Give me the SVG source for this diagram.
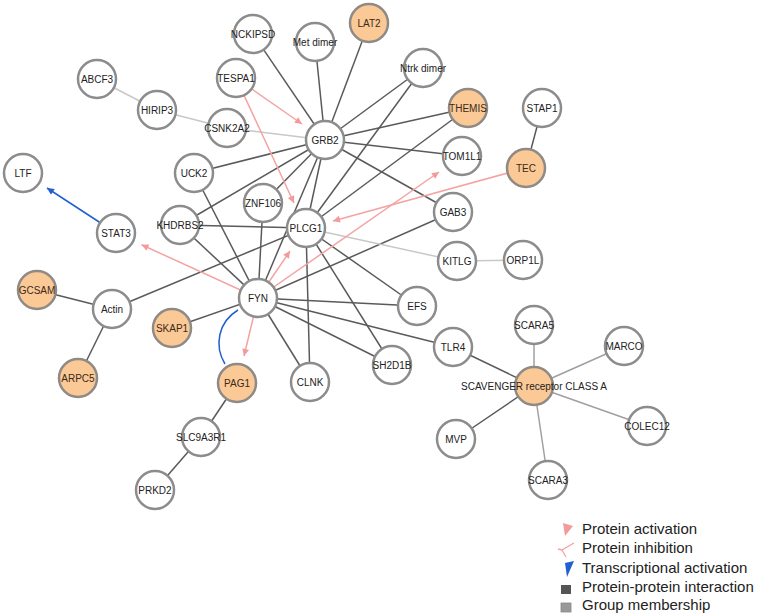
<svg xmlns="http://www.w3.org/2000/svg" width="757" height="615" viewBox="0 0 757 615">
<style>
.n circle{fill:#fff;stroke:#8c8c8c;stroke-width:2.5}
.o circle{fill:#fbc995;stroke:#8f8a85;stroke-width:2.5}
text{font-family:"Liberation Sans",Arial,sans-serif;font-size:10px;fill:#222;text-anchor:middle}
.o text{fill:#3a2a1a}
.d{stroke:#5a5a5a;stroke-width:1.5;fill:none}
.l{stroke:#c8c8c8;stroke-width:1.5;fill:none}
.g{stroke:#a0a0a0;stroke-width:1.5;fill:none}
.p{stroke:#f4a3a3;stroke-width:1.5;fill:none;marker-end:url(#pa)}
.b{stroke:#2060d0;stroke-width:1.5;fill:none}
.leg{font-size:15px;text-anchor:start;fill:#222}
</style>
<defs>
<marker id="pa" viewBox="0 0 10 10" refX="10" refY="5" markerWidth="10" markerHeight="7" markerUnits="userSpaceOnUse" orient="auto"><path d="M0,0 L10,5 L0,10 z" fill="#f39a9a"/></marker>
<marker id="ba" viewBox="0 0 10 10" refX="10" refY="5" markerWidth="10" markerHeight="7" markerUnits="userSpaceOnUse" orient="auto"><path d="M0,0 L10,5 L0,10 z" fill="#2060d0"/></marker>
</defs>
<g id="connectors">
<line class="d" x1="253" y1="34" x2="325" y2="140"/>
<line class="d" x1="315" y1="42" x2="325" y2="140"/>
<line class="d" x1="369" y1="23" x2="325" y2="140"/>
<line class="d" x1="423" y1="68" x2="325" y2="140"/>
<line class="d" x1="468" y1="108" x2="325" y2="140"/>
<line class="d" x1="462" y1="156" x2="325" y2="140"/>
<line class="d" x1="453" y1="212" x2="325" y2="140"/>
<line class="d" x1="194" y1="173" x2="325" y2="140"/>
<line class="d" x1="180" y1="225" x2="325" y2="140"/>
<line class="d" x1="263" y1="203" x2="325" y2="140"/>
<line class="d" x1="306" y1="228" x2="325" y2="140"/>
<line class="d" x1="258" y1="298" x2="325" y2="140"/>
<line class="d" x1="423" y1="68" x2="306" y2="228"/>
<line class="d" x1="468" y1="108" x2="306" y2="228"/>
<line class="d" x1="180" y1="225" x2="306" y2="228"/>
<line class="d" x1="112" y1="309" x2="306" y2="228"/>
<line class="d" x1="306" y1="228" x2="417" y2="306"/>
<line class="d" x1="306" y1="228" x2="392" y2="365"/>
<line class="d" x1="306" y1="228" x2="310" y2="382"/>
<line class="d" x1="258" y1="298" x2="194" y2="173"/>
<line class="d" x1="258" y1="298" x2="180" y2="225"/>
<line class="d" x1="258" y1="298" x2="263" y2="203"/>
<line class="d" x1="258" y1="298" x2="453" y2="212"/>
<line class="d" x1="258" y1="298" x2="417" y2="306"/>
<line class="d" x1="258" y1="298" x2="453" y2="347"/>
<line class="d" x1="258" y1="298" x2="392" y2="365"/>
<line class="d" x1="258" y1="298" x2="310" y2="382"/>
<line class="d" x1="258" y1="298" x2="172" y2="328"/>
<line class="d" x1="112" y1="309" x2="37" y2="290"/>
<line class="d" x1="112" y1="309" x2="78" y2="378"/>
<line class="d" x1="237" y1="383" x2="201" y2="437"/>
<line class="d" x1="201" y1="437" x2="155" y2="490"/>
<line class="d" x1="526" y1="168" x2="542" y2="108"/>
<line class="d" x1="453" y1="347" x2="534" y2="386"/>
<line class="d" x1="456" y1="439" x2="534" y2="386"/>
<line class="l" x1="97" y1="79" x2="157" y2="110"/>
<line class="l" x1="157" y1="110" x2="227" y2="128"/>
<line class="l" x1="227" y1="128" x2="325" y2="140"/>
<line class="l" x1="306" y1="228" x2="457" y2="261"/>
<line class="l" x1="457" y1="261" x2="523" y2="260"/>
<line class="g" x1="534" y1="386" x2="534" y2="325"/>
<line class="g" x1="534" y1="386" x2="624" y2="346"/>
<line class="g" x1="534" y1="386" x2="647" y2="426"/>
<line class="g" x1="534" y1="386" x2="548" y2="480"/>
<line class="p" x1="236" y1="78" x2="302" y2="124"/>
<line class="p" x1="236" y1="78" x2="294" y2="203"/>
<line class="p" x1="258" y1="298" x2="290" y2="251"/>
<line class="p" x1="258" y1="298" x2="439" y2="172"/>
<line class="p" x1="526" y1="168" x2="333" y2="221"/>
<line class="p" x1="258" y1="298" x2="141.5" y2="244.7"/>
<line class="p" x1="258" y1="298" x2="244" y2="356"/>
<line class="b" x1="116" y1="233" x2="47" y2="188" marker-end="url(#ba)"/>
<path class="b" d="M238,310 C218,322 214,346 225,364"/>
</g>
<g id="LTF" class="n"><circle cx="23" cy="173" r="19"/><text x="23" y="176.5">LTF</text></g>
<g id="ABCF3" class="n"><circle cx="97" cy="79" r="19"/><text x="97" y="82.5">ABCF3</text></g>
<g id="HIRIP3" class="n"><circle cx="157" cy="110" r="19"/><text x="157" y="113.5">HIRIP3</text></g>
<g id="CSNK2A2" class="n"><circle cx="227" cy="128" r="19"/><text x="227" y="131.5">CSNK2A2</text></g>
<g id="TESPA1" class="n"><circle cx="236" cy="78" r="19"/><text x="236" y="81.5">TESPA1</text></g>
<g id="NCKIPSD" class="n"><circle cx="253" cy="34" r="19"/><text x="253" y="37.5">NCKIPSD</text></g>
<g id="MetDimer" class="n"><circle cx="315" cy="42" r="19"/><text x="315" y="45.5">Met dimer</text></g>
<g id="LAT2" class="o"><circle cx="369" cy="23" r="19"/><text x="369" y="26.5">LAT2</text></g>
<g id="NtrkDimer" class="n"><circle cx="423" cy="68" r="19"/><text x="423" y="71.5">Ntrk dimer</text></g>
<g id="THEMIS" class="o"><circle cx="468" cy="108" r="19"/><text x="468" y="111.5">THEMIS</text></g>
<g id="STAP1" class="n"><circle cx="542" cy="108" r="19"/><text x="542" y="111.5">STAP1</text></g>
<g id="GRB2" class="n"><circle cx="325" cy="140" r="19"/><text x="325" y="143.5">GRB2</text></g>
<g id="TOM1L1" class="n"><circle cx="462" cy="156" r="19"/><text x="462" y="159.5">TOM1L1</text></g>
<g id="TEC" class="o"><circle cx="526" cy="168" r="19"/><text x="526" y="171.5">TEC</text></g>
<g id="UCK2" class="n"><circle cx="194" cy="173" r="19"/><text x="194" y="176.5">UCK2</text></g>
<g id="ZNF106" class="n"><circle cx="263" cy="203" r="19"/><text x="263" y="206.5">ZNF106</text></g>
<g id="KHDRBS2" class="n"><circle cx="180" cy="225" r="19"/><text x="180" y="228.5">KHDRBS2</text></g>
<g id="PLCG1" class="n"><circle cx="306" cy="228" r="19"/><text x="306" y="231.5">PLCG1</text></g>
<g id="GAB3" class="n"><circle cx="453" cy="212" r="19"/><text x="453" y="215.5">GAB3</text></g>
<g id="KITLG" class="n"><circle cx="457" cy="261" r="19"/><text x="457" y="264.5">KITLG</text></g>
<g id="ORP1L" class="n"><circle cx="523" cy="260" r="19"/><text x="523" y="263.5">ORP1L</text></g>
<g id="STAT3" class="n"><circle cx="116" cy="233" r="19"/><text x="116" y="236.5">STAT3</text></g>
<g id="GCSAM" class="o"><circle cx="37" cy="290" r="19"/><text x="37" y="293.5">GCSAM</text></g>
<g id="Actin" class="n"><circle cx="112" cy="309" r="19"/><text x="112" y="312.5">Actin</text></g>
<g id="FYN" class="n"><circle cx="258" cy="298" r="19"/><text x="258" y="301.5">FYN</text></g>
<g id="SKAP1" class="o"><circle cx="172" cy="328" r="19"/><text x="172" y="331.5">SKAP1</text></g>
<g id="EFS" class="n"><circle cx="417" cy="306" r="19"/><text x="417" y="309.5">EFS</text></g>
<g id="ARPC5" class="o"><circle cx="78" cy="378" r="19"/><text x="78" y="381.5">ARPC5</text></g>
<g id="PAG1" class="o"><circle cx="237" cy="383" r="19"/><text x="237" y="386.5">PAG1</text></g>
<g id="CLNK" class="n"><circle cx="310" cy="382" r="19"/><text x="310" y="385.5">CLNK</text></g>
<g id="SH2D1B" class="n"><circle cx="392" cy="365" r="19"/><text x="392" y="368.5">SH2D1B</text></g>
<g id="TLR4" class="n"><circle cx="453" cy="347" r="19"/><text x="453" y="350.5">TLR4</text></g>
<g id="SLC9A3R1" class="n"><circle cx="201" cy="437" r="19"/><text x="201" y="440.5">SLC9A3R1</text></g>
<g id="PRKD2" class="n"><circle cx="155" cy="490" r="19"/><text x="155" y="493.5">PRKD2</text></g>
<g id="SCARA5" class="n"><circle cx="534" cy="325" r="19"/><text x="534" y="328.5">SCARA5</text></g>
<g id="MARCO" class="n"><circle cx="624" cy="346" r="19"/><text x="624" y="349.5">MARCO</text></g>
<g id="COLEC12" class="n"><circle cx="647" cy="426" r="19"/><text x="647" y="429.5">COLEC12</text></g>
<g id="MVP" class="n"><circle cx="456" cy="439" r="19"/><text x="456" y="442.5">MVP</text></g>
<g id="SCARA3" class="n"><circle cx="548" cy="480" r="19"/><text x="548" y="483.5">SCARA3</text></g>
<g id="SCAVENGER" class="o"><circle cx="534" cy="386" r="19"/><text x="534" y="389.5" style="fill:#222">SCAVENGER receptor CLASS A</text></g>
<g id="legend">
<polygon points="563,523 573,526 565,536" fill="#f39a9a"/>
<polyline points="574,543 562,550 566,557" fill="none" stroke="#f4a3a3" stroke-width="1.3"/>
<line x1="562" y1="550" x2="558" y2="549" stroke="#f4a3a3" stroke-width="1.3"/>
<polygon points="565,563 574,561 567,577" fill="#2060d0"/>
<rect x="561" y="585" width="10" height="9" fill="#555"/>
<rect x="561" y="603" width="10" height="9" fill="#999" stroke="#888" stroke-width="0.8"/>
<text class="leg" x="582" y="534">Protein activation</text>
<text class="leg" x="582" y="553">Protein inhibition</text>
<text class="leg" x="582" y="573">Transcriptional activation</text>
<text class="leg" x="582" y="592">Protein-protein interaction</text>
<text class="leg" x="582" y="610">Group membership</text>
</g>
</svg>
